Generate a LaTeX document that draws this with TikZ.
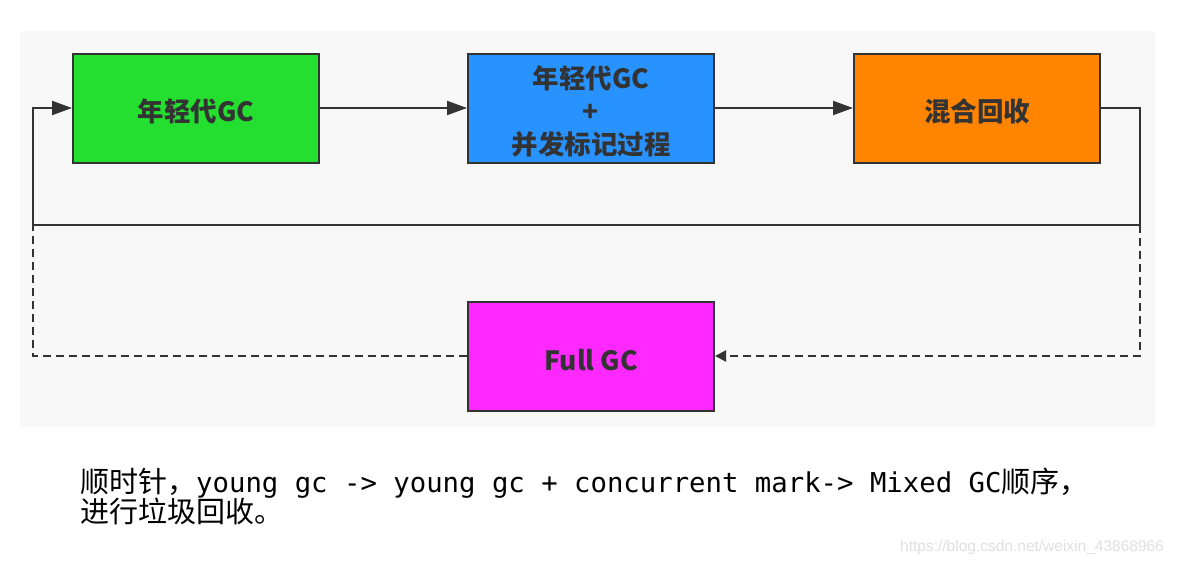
\documentclass[tikz,border=0pt]{standalone}
\usepackage{fontspec}
\setmainfont{Noto Sans CJK SC}
\newfontfamily\cjk{Noto Sans CJK SC}
\newfontfamily\mono{DejaVu Sans Mono}
\newfontfamily\wm{Liberation Sans}
\usetikzlibrary{arrows.meta}
\definecolor{linec}{RGB}{51,51,51}
\definecolor{panel}{RGB}{248,248,248}
\definecolor{cgreen}{RGB}{36,223,48}
\definecolor{cblue}{RGB}{40,146,255}
\definecolor{corange}{RGB}{255,133,0}
\definecolor{cmag}{RGB}{255,40,255}
\definecolor{txt}{RGB}{51,51,51}
\newcommand\lowtxt{\rule{0pt}{30pt}}
\tikzset{
  box/.style={draw=linec, line width=2pt, minimum width=246pt, minimum height=109pt,
    inner sep=0pt, align=center, text=txt, font=\cjk\bfseries\fontsize{26.5}{33}\selectfont},
  conn/.style={draw=linec, line width=2pt},
  arr/.style={conn, -{Triangle[length=20pt,width=14pt]}},
  dconn/.style={conn, dash pattern=on 8pt off 5pt},
  darr/.style={dconn, -{Triangle[length=11pt,width=11pt]}},
}
\begin{document}
\begin{tikzpicture}[x=1pt,y=-1pt]
\useasboundingbox (0,0) rectangle (1181,563);
\fill[white] (0,0) rectangle (1181,563);
\fill[panel] (20,31) rectangle (1155,427);
\node[box, fill=cgreen] (y) at (196,108) {\lowtxt 年轻代GC};
\node[box, fill=cblue] (b) at (591,108) {\lowtxt 年轻代GC\\+\\并发标记过程};
\node[box, fill=corange] (o) at (977,108) {\lowtxt 混合回收};
\node[box, fill=cmag] (f) at (591,356) {\lowtxt Full GC};
\coordinate (r1) at (1140,108);
\coordinate (r2) at (1140,225);
\coordinate (r3) at (1140,356);
\coordinate (l1) at (33,225);
\coordinate (l2) at (33,108);
\coordinate (l3) at (33,356);
\draw[arr] (y) -- (b);
\draw[arr] (b) -- (o);
\draw[arr] (o.east) -- (r1) -- (r2) -- (l1) -- (l2) -- (y.west);
\draw[darr] (r2) -- (r3) -- (f.east);
\draw[dconn] (f.west) -- (l3) -- (l1);
\node[anchor=base west, inner sep=0pt, text=black] (t1) at (80,492)
  {{\cjk\fontsize{29}{30}\selectfont 顺时针，}{\mono\fontsize{27.3}{30}\selectfont young gc -> young gc + concurrent mark-> Mixed GC}{\cjk\fontsize{29}{30}\selectfont 顺序，}};
\node[anchor=base west, inner sep=0pt, text=black] (t2) at (80,522)
  {\cjk\fontsize{29}{30}\selectfont 进行垃圾回收。};
\node[anchor=base west, inner sep=0pt, text=black!12] (w) at (900,551)
  {\wm\fontsize{15.5}{18}\selectfont https://blog.csdn.net/weixin\_43868966};
\end{tikzpicture}
\end{document}
